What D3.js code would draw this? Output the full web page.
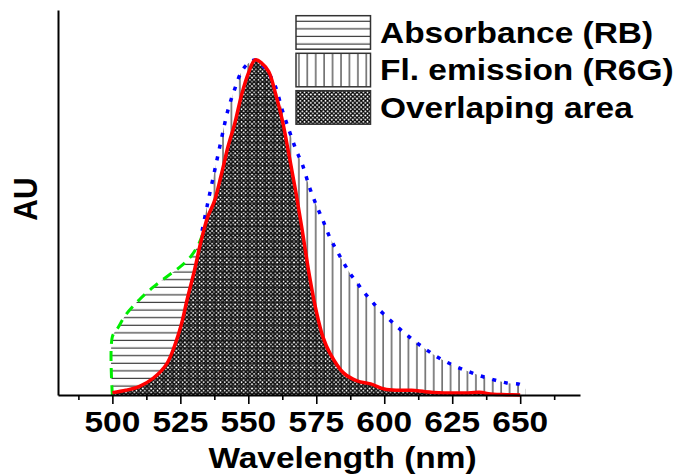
<!DOCTYPE html>
<html><head><meta charset="utf-8">
<script src="https://cdn.jsdelivr.net/npm/d3@7"></script>
<style>
html,body{margin:0;padding:0;background:#fff;}
text{font-family:"Liberation Sans",Arial,sans-serif;font-weight:bold;fill:#000;}
</style></head>
<body><svg id="c" width="673" height="476"></svg>
<script>
// ---- data ----
const xMajorTicks = [500, 525, 550, 575, 600, 625, 650];
const xMinorTicks = [487.5, 512.5, 537.5, 562.5, 587.5, 612.5, 637.5, 662.5];
const xTitle = "Wavelength (nm)";
const yTitle = "AU";
const legendLabels = ["Absorbance (RB)", "Fl. emission (R6G)", "Overlaping area"];

// Absorbance (RB) - green dashed
const absWl  = [500, 500, 502, 505, 510, 515, 520, 525, 529, 532, 534];
const absVal = [0, 0.174, 0.2, 0.24, 0.285, 0.322, 0.353, 0.383, 0.415, 0.455, 0.5];

// Fl. emission (R6G) - blue dotted
const emWl  = [533, 535, 537.5, 540, 542.5, 545, 547.5, 550, 552.5, 555, 557.5, 560, 562.5, 565, 567.5, 570, 572.5, 575, 577.5, 580, 582.5, 585, 587.5, 590, 592.5, 595, 597.5, 600, 605, 610, 615, 620, 625, 630, 635, 640, 645, 650, 652];
const emVal = [0.49, 0.57, 0.665, 0.76, 0.85, 0.913, 0.965, 0.99, 1.0, 0.985, 0.96, 0.92, 0.85, 0.79, 0.733, 0.685, 0.62, 0.567, 0.52, 0.47, 0.432, 0.395, 0.362, 0.335, 0.307, 0.284, 0.26, 0.24, 0.202, 0.168, 0.138, 0.111, 0.09, 0.073, 0.058, 0.046, 0.036, 0.031, 0.017];

// Overlapping area - red
const ovWl  = [500, 505, 510, 515, 520, 525, 527.5, 530, 532.5, 535, 537.5, 540, 542.5, 545, 547.5, 550, 552.5, 555, 557.5, 560, 562.5, 565, 567.5, 570, 572.5, 575, 577.5, 580, 585, 590, 595, 600, 605, 610, 615, 620, 625, 630, 635, 640, 645, 650];
const ovVal = [0.007, 0.014, 0.026, 0.05, 0.093, 0.2, 0.285, 0.365, 0.455, 0.53, 0.578, 0.655, 0.74, 0.81, 0.895, 0.96, 1.0, 0.99, 0.965, 0.9, 0.82, 0.715, 0.605, 0.483, 0.355, 0.25, 0.172, 0.125, 0.066, 0.042, 0.033, 0.018, 0.014, 0.014, 0.01, 0.007, 0.006, 0.006, 0.008, 0.002, 0.001, 0.0];

// ---- drawing ----
const svg = d3.select("#c");
const x = d3.scaleLinear().domain([480, 672]).range([58, 580]);
const y = d3.scaleLinear().domain([0, 1.149]).range([395, 10]);
const FS = 30, SX = 1.115;

const zip = (a, b) => a.map((d, i) => [d, b[i]]);
const absData = zip(absWl, absVal), emData = zip(emWl, emVal), ovData = zip(ovWl, ovVal);

const defs = svg.append("defs");
const ph = defs.append("pattern").attr("id", "hh").attr("patternUnits", "userSpaceOnUse")
  .attr("width", 8).attr("height", 7.6);
ph.append("line").attr("x1", 0).attr("x2", 8).attr("y1", 6).attr("y2", 6)
  .attr("stroke", "#111").attr("stroke-width", 1);
const pv = defs.append("pattern").attr("id", "vh").attr("patternUnits", "userSpaceOnUse")
  .attr("width", 8.43).attr("height", 8);
pv.append("line").attr("x1", 3.8).attr("x2", 3.8).attr("y1", 0).attr("y2", 8)
  .attr("stroke", "#111").attr("stroke-width", 1);
const px = defs.append("pattern").attr("id", "xh").attr("patternUnits", "userSpaceOnUse")
  .attr("width", 4.2).attr("height", 4.2);
px.append("rect").attr("width", 4.2).attr("height", 4.2).attr("fill", "#fff");
px.append("path").attr("d", "M0,0L4.2,4.2M4.2,0L0,4.2").attr("stroke", "#000").attr("stroke-width", 1.3);

const area = d3.area().x(d => x(d[0])).y0(y(0)).y1(d => y(d[1])).curve(d3.curveCatmullRom);
const line = d3.line().x(d => x(d[0])).y(d => y(d[1])).curve(d3.curveCatmullRom);

svg.append("path").attr("d", area(absData)).attr("fill", "url(#hh)");
svg.append("path").attr("d", area(emData)).attr("fill", "url(#vh)");
svg.append("path").attr("d", area(ovData)).attr("fill", "url(#xh)");
svg.append("path").attr("d", area(ovData)).attr("fill", "url(#hh)");
svg.append("path").attr("d", area(ovData)).attr("fill", "url(#vh)");

svg.append("path").attr("d", line(absData)).attr("fill", "none")
  .attr("stroke", "#00ee00").attr("stroke-width", 3).attr("stroke-dasharray", "10,7");
svg.append("path").attr("d", line(emData)).attr("fill", "none")
  .attr("stroke", "#0000ff").attr("stroke-width", 3.5).attr("stroke-dasharray", "4,8");
svg.append("path").attr("d", line(ovData)).attr("fill", "none")
  .attr("stroke", "#ff0000").attr("stroke-width", 3.5).attr("stroke-linejoin", "round");

// axes
const gx = svg.append("g").attr("transform", `translate(0,${y(0)})`)
  .call(d3.axisBottom(x).tickValues(xMajorTicks).tickSize(9).tickSizeOuter(0).tickFormat(""));
gx.select(".domain").attr("stroke-width", 2);
gx.selectAll(".tick line").attr("stroke-width", 1.6);
const gxm = svg.append("g").attr("transform", `translate(0,${y(0)})`)
  .call(d3.axisBottom(x).tickValues(xMinorTicks).tickSize(5).tickSizeOuter(0).tickFormat(""));
gxm.select(".domain").remove();
gxm.selectAll(".tick line").attr("stroke-width", 1.6);

const gy = svg.append("g").attr("transform", `translate(${x(480)},0)`)
  .call(d3.axisLeft(y).tickValues([]).tickSizeOuter(0));
gy.select(".domain").attr("stroke-width", 2);

svg.append("g").selectAll("text").data(xMajorTicks).join("text")
  .attr("transform", d => `translate(${x(d)},432) scale(${SX},1)`)
  .attr("text-anchor", "middle").attr("font-size", FS).text(d => d);

svg.append("text").attr("transform", `translate(342.5,467.5) scale(${SX},1)`)
  .attr("text-anchor", "middle").attr("font-size", FS).text(xTitle);
svg.append("text").attr("transform", `translate(37,199) scale(${SX},1) rotate(-90)`)
  .attr("text-anchor", "middle").attr("font-size", FS).text(yTitle);

// legend
const legFills = ["url(#hh)", "url(#vh)", "url(#xh)"];
const legTops = [15.7, 53.3, 90.7];
const lg = svg.append("g");
legendLabels.forEach((lab, i) => {
  lg.append("rect").attr("x", 296).attr("y", legTops[i]).attr("width", 74.5).attr("height", 33.5)
    .attr("fill", legFills[i]).attr("stroke", "#333").attr("stroke-width", 1.5);
  lg.append("text").attr("transform", `translate(380,${legTops[i] + 27}) scale(${SX},1)`)
    .attr("font-size", FS).text(lab);
});
</script></body></html>
